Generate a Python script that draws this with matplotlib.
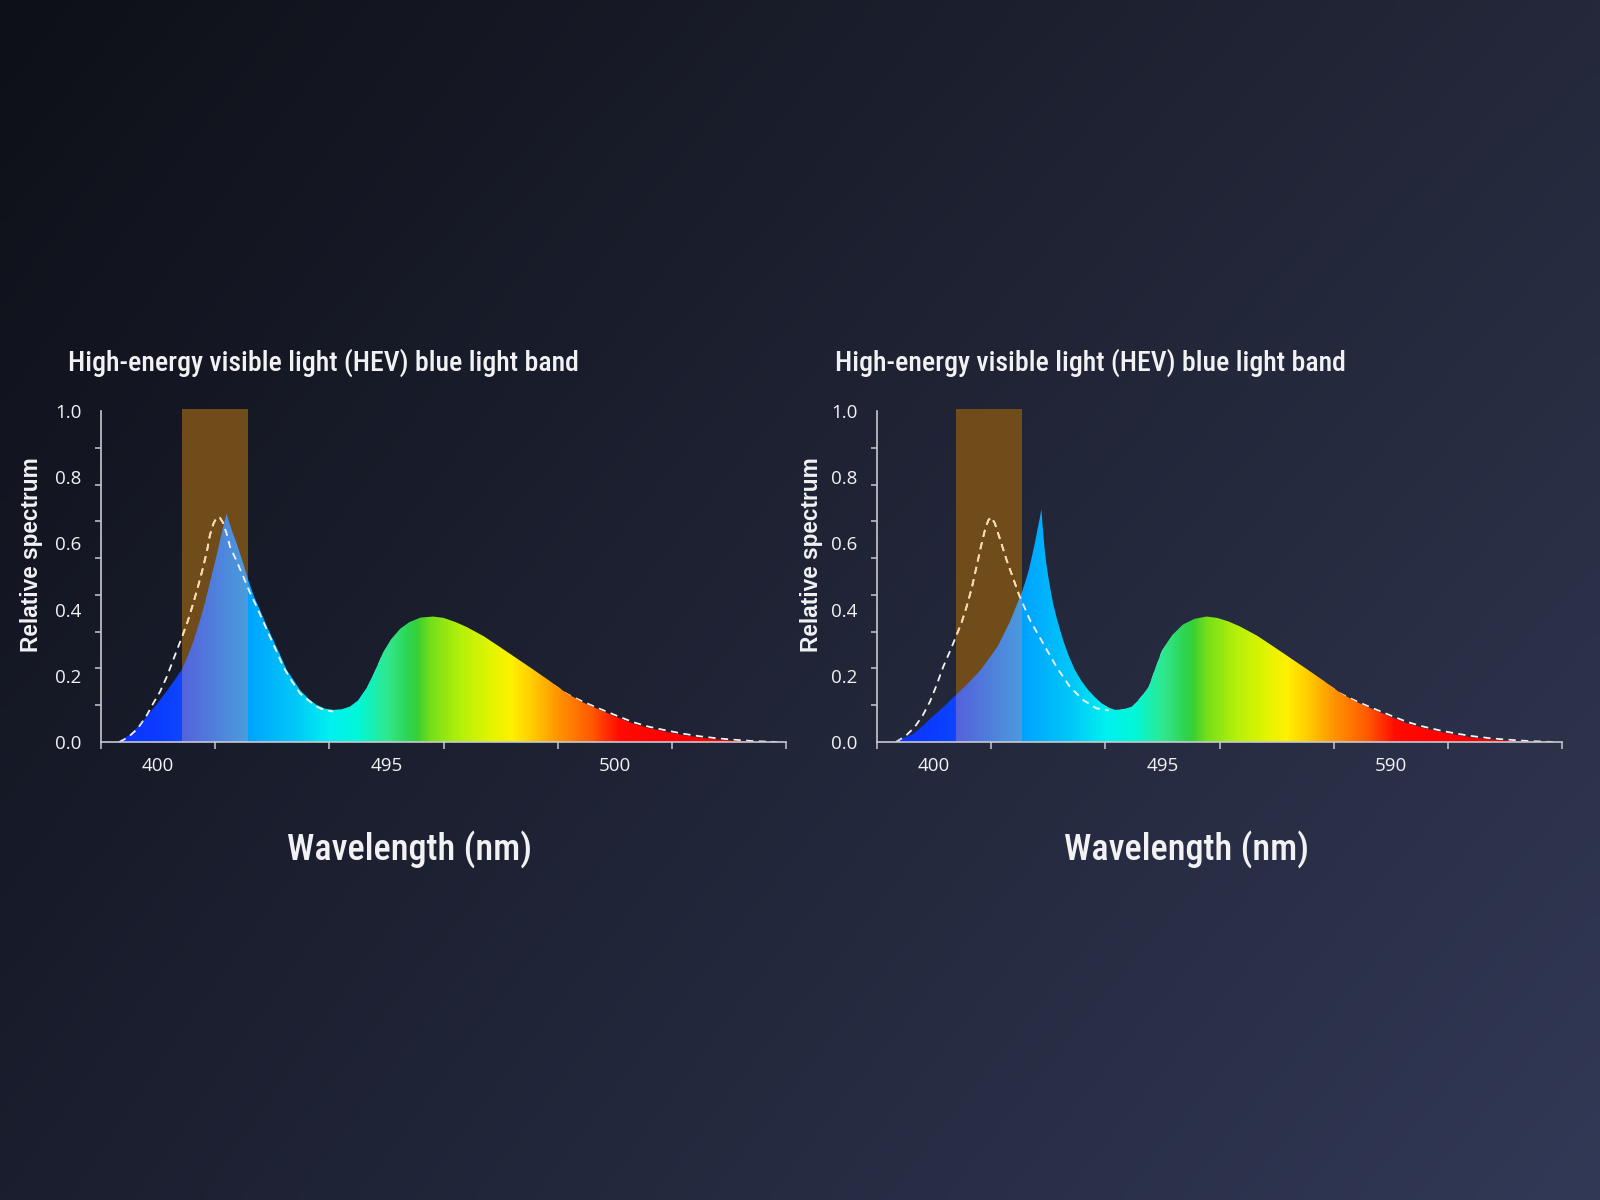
import numpy as np
import matplotlib.pyplot as plt
from matplotlib.colors import LinearSegmentedColormap
from matplotlib.patches import Rectangle

#> Values; x in tick units (0..6), y relative spectrum
left_x = [0.14, 0.20, 0.26, 0.32, 0.38, 0.43, 0.49, 0.55, 0.62, 0.707, 0.76, 0.81, 0.86, 0.91,
          0.96, 1.01, 1.04, 1.07, 1.09, 1.10, 1.115, 1.14, 1.188, 1.24, 1.29, 1.34, 1.392, 1.45, 1.509,
          1.57, 1.626, 1.69, 1.743, 1.82, 1.889, 1.96, 2.034, 2.11, 2.18, 2.25, 2.33, 2.40, 2.47, 2.54,
          2.62, 2.70, 2.80, 2.91, 3.00, 3.10, 3.20, 3.35, 3.49, 3.64, 3.79, 3.94, 4.08, 4.22, 4.37,
          4.52, 4.66, 4.80, 4.95, 5.10, 5.25, 5.40, 5.54, 5.80]
left_y = [0.0, 0.01, 0.025, 0.045, 0.068, 0.09, 0.115, 0.142, 0.175, 0.218, 0.26, 0.305, 0.36, 0.42,
          0.49, 0.56, 0.605, 0.65, 0.676, 0.69, 0.672, 0.645, 0.60, 0.545, 0.489, 0.44, 0.399, 0.352, 0.308,
          0.262, 0.218, 0.185, 0.157, 0.13, 0.112, 0.101, 0.097, 0.099, 0.107, 0.125, 0.165, 0.215, 0.27, 0.31,
          0.342, 0.362, 0.376, 0.379, 0.375, 0.363, 0.348, 0.32, 0.288, 0.253, 0.218, 0.182, 0.147, 0.12, 0.097,
          0.075, 0.056, 0.042, 0.031, 0.021, 0.013, 0.008, 0.004, 0.0]

left_ref_x = [0.16, 0.24, 0.32, 0.40, 0.458, 0.517, 0.58, 0.64, 0.707, 0.76, 0.808, 0.85, 0.896, 0.93,
              0.954, 0.985, 1.013, 1.04, 1.065, 1.10, 1.13, 1.19, 1.246, 1.30, 1.363, 1.42, 1.48, 1.54,
              1.597, 1.67, 1.743, 1.82, 1.889, 1.96, 2.034, 2.11, 2.18, 2.25, 2.33, 2.40, 2.47, 2.54,
              2.62, 2.70, 2.80, 2.91, 3.00, 3.20, 3.49, 3.79, 4.08, 4.22, 4.37, 4.52, 4.66, 4.80, 4.95,
              5.10, 5.25, 5.40, 5.54, 5.70, 5.92]
left_ref_y = [0.0, 0.015, 0.04, 0.08, 0.117, 0.152, 0.20, 0.255, 0.315, 0.365, 0.419, 0.47, 0.53, 0.58,
              0.625, 0.66, 0.678, 0.678, 0.665, 0.63, 0.59, 0.545, 0.5, 0.455, 0.409, 0.365, 0.318, 0.272,
              0.227, 0.185, 0.147, 0.125, 0.107, 0.096, 0.092, 0.094, 0.1, 0.118, 0.157, 0.207, 0.262, 0.302,
              0.334, 0.354, 0.368, 0.371, 0.367, 0.34, 0.28, 0.212, 0.145, 0.122, 0.1, 0.079, 0.06, 0.046, 0.035,
              0.025, 0.017, 0.011, 0.007, 0.003, 0.0]

right_x = [0.145, 0.22, 0.32, 0.40, 0.468, 0.58, 0.691, 0.80, 0.909, 1.056, 1.16, 1.266, 1.30, 1.33,
           1.36, 1.385, 1.41, 1.425, 1.44, 1.445, 1.45, 1.46, 1.47, 1.483, 1.50, 1.52, 1.542, 1.57, 1.60,
           1.63, 1.68, 1.733, 1.79, 1.85, 1.91, 1.968, 2.03, 2.085, 2.16, 2.233, 2.30, 2.38, 2.44,
           2.498, 2.586, 2.68, 2.78, 2.885, 2.98, 3.08, 3.18, 3.33, 3.47, 3.62, 3.77, 3.92, 4.06, 4.20,
           4.35, 4.50, 4.64, 4.78, 4.93, 5.08, 5.23, 5.38, 5.52, 5.78]
right_y = [0.0, 0.01, 0.025, 0.048, 0.071, 0.105, 0.142, 0.178, 0.218, 0.288, 0.36, 0.449, 0.485, 0.52,
           0.565, 0.605, 0.65, 0.675, 0.703, 0.68, 0.655, 0.615, 0.578, 0.54, 0.5, 0.46, 0.419, 0.38, 0.343,
           0.308, 0.26, 0.218, 0.185, 0.157, 0.135, 0.117, 0.104, 0.097, 0.099, 0.107, 0.13, 0.167, 0.225,
           0.278, 0.323, 0.355, 0.372, 0.379, 0.375, 0.364, 0.349, 0.321, 0.289, 0.254, 0.219, 0.183, 0.148,
           0.121, 0.098, 0.076, 0.057, 0.043, 0.031, 0.021, 0.013, 0.008, 0.004, 0.0]

right_ref_x = [0.165, 0.25, 0.33, 0.40, 0.464, 0.52, 0.58, 0.64, 0.691, 0.74, 0.785, 0.83, 0.872, 0.91,
               0.945, 0.975, 1.0, 1.032, 1.08, 1.135, 1.19, 1.245, 1.339, 1.455, 1.572, 1.689, 1.805, 1.92,
               2.085, 2.233, 2.38, 2.498, 2.586, 2.68, 2.78, 2.885, 2.98, 3.18, 3.47, 3.77, 4.06, 4.20,
               4.35, 4.50, 4.64, 4.78, 4.93, 5.08, 5.23, 5.38, 5.52, 5.70, 5.92]
right_ref_y = [0.0, 0.018, 0.045, 0.08, 0.122, 0.17, 0.227, 0.275, 0.318, 0.36, 0.409, 0.465, 0.53, 0.59,
               0.64, 0.67, 0.679, 0.661, 0.61, 0.55, 0.497, 0.444, 0.369, 0.298, 0.227, 0.167, 0.127, 0.102,
               0.092, 0.1, 0.159, 0.27, 0.315, 0.347, 0.364, 0.371, 0.367, 0.341, 0.281, 0.213, 0.146, 0.123,
               0.101, 0.08, 0.061, 0.047, 0.035, 0.025, 0.017, 0.011, 0.007, 0.003, 0.0]

left_band = (0.707, 1.29)
right_band = (0.69, 1.27)
left_xlabels = ['400', '495', '500']
right_xlabels = ['400', '495', '590']
ytick_vals = [0.0, 0.2, 0.4, 0.6, 0.8, 1.0]
title = 'High-energy visible light (HEV) blue light band'
ylab = 'Relative spectrum'
xlab = 'Wavelength (nm)'

#> Colours along the x axis of the spectrum fill
spec_pos = [0.0, 0.5, 0.7, 1.3, 1.7, 2.0, 2.25, 2.5, 2.72, 2.78, 2.9, 3.15, 3.4, 3.6, 3.8, 4.0, 4.3, 4.55, 5.0, 6.0]
spec_col = ['#1030ff', '#0a3cff', '#0f46ff', '#00a5ff', '#00c8f8', '#00f0f0', '#00f8d8', '#30e890',
            '#2ed24a', '#40d030', '#78e018', '#b4f00a', '#e0f500', '#fff000', '#ffc800', '#ff9600',
            '#ff5a00', '#ff0a00', '#ff0000', '#e80000']
spec_cmap = LinearSegmentedColormap.from_list('spec', [(p / 6, c) for p, c in zip(spec_pos, spec_col)])

axis_col = '#c8c8d0'
text_col = '#f2f2f5'
narrow = ['Roboto Condensed', 'Liberation Sans', 'DejaVu Sans']
plt.rcParams['font.family'] = ['Open Sans', 'DejaVu Sans']

fig = plt.figure(figsize=(16, 12), dpi=100)

#> background gradient
bg = fig.add_axes([0, 0, 1, 1], zorder=-10)
u = np.linspace(0, 1, 160)[None, :, None]
v = np.linspace(0, 1, 120)[:, None, None]
tl, tr, bl, br = [np.array(c) / 255 for c in ((14, 16, 24), (36, 40, 58), (26, 30, 46), (50, 57, 86))]
img = tl * (1 - u) * (1 - v) + tr * u * (1 - v) + bl * (1 - u) * v + br * u * v
bg.imshow(img, aspect='auto', extent=[0, 1, 0, 1], interpolation='bilinear')
bg.axis('off')


def panel(ax_left, sx, sy, rx, ry, band, xlabels):
    ax = fig.add_axes([ax_left / 1600, 458 / 1200, 685 / 1600, 331 / 1200])
    ax.patch.set_visible(False)

    # band behind the spectrum
    rect = Rectangle((band[0], 0), band[1] - band[0], 1.005, facecolor='#704c1a',
                     edgecolor='none', zorder=1, clip_on=False)
    ax.add_patch(rect)

    # spectrum with colour gradient
    poly = ax.fill_between(sx, sy, 0, facecolor='none', edgecolor='none')
    path = poly.get_paths()[0]
    im = ax.imshow(np.linspace(0, 1, 800)[None, :], cmap=spec_cmap, extent=[0, 6, 0, 1],
                   aspect='auto', interpolation='bilinear', zorder=2)
    im.set_clip_path(path, transform=ax.transData)

    over = Rectangle((band[0], 0), band[1] - band[0], 1, facecolor=(203 / 255, 150 / 255, 160 / 255),
                     alpha=0.37, edgecolor='none', zorder=2.5)
    ax.add_patch(over)
    over.set_clip_path(path, transform=ax.transData)

    # reference curve (dashed): below the fill, plus the part inside the blue peak on top
    dash = dict(lw=1.3, ls=(0, (4, 3)))
    ax.plot(rx, ry, color='#f4f4f4', zorder=1.5, **dash)
    l2, = ax.plot(rx, ry, color='#ffd9a8', zorder=1.6, **dash)
    l2.set_clip_path(rect)
    k = sum(1 for x in sx if x <= 2.04)
    head = ax.fill_between(sx[:k], sy[:k], 0, facecolor='none', edgecolor='none')
    l3, = ax.plot(rx, ry, color='#f4f4f4', zorder=3, **dash)
    l3.set_clip_path(head.get_paths()[0], transform=ax.transData)

    ax.set_xlim(0, 6)
    ax.set_ylim(0, 1)
    for s in ('top', 'right'):
        ax.spines[s].set_visible(False)
    for s in ('left', 'bottom'):
        ax.spines[s].set_color(axis_col)
        ax.spines[s].set_linewidth(1.2)
        ax.spines[s].set_zorder(4)

    ax.set_xticks(range(7))
    ax.set_xticklabels([])
    ax.set_xticks([0.5, 2.5, 4.5], minor=True)
    ax.set_xticklabels(xlabels, minor=True)
    ax.tick_params(axis='x', which='major', length=5, width=1.1, color=axis_col)
    ax.tick_params(axis='x', which='minor', length=0, pad=11, labelsize=13.5, labelcolor=text_col)

    ax.set_yticks(ytick_vals)
    ax.set_yticklabels(['%.1f' % t for t in ytick_vals])
    ax.tick_params(axis='y', which='major', length=0, pad=14, labelsize=13.5, labelcolor=text_col)
    ax.set_yticks(np.linspace(0, 1, 10), minor=True)
    ax.tick_params(axis='y', which='minor', length=4.5, width=1.1, color=axis_col)
    return ax


panel(101, left_x, left_y, left_ref_x, left_ref_y, left_band, left_xlabels)
panel(877, right_x, right_y, right_ref_x, right_ref_y, right_band, right_xlabels)

renderer = fig.canvas.get_renderer()


def fit_width(t, target):
    w = t.get_window_extent(renderer).width
    t.set_fontsize(t.get_fontsize() * target / w)


for tx, yx, xx in ((68, 32, 410), (835, 812, 1186)):
    t1 = fig.text(tx / 1600, 1 - 371 / 1200, title, family=narrow, weight='medium', fontsize=20,
                  color=text_col, ha='left', va='baseline')
    fit_width(t1, 510)
    fig.text(yx / 1600, 1 - 555 / 1200, ylab, family=['Liberation Sans', 'DejaVu Sans'],
             weight='bold', fontsize=16.3, color=text_col, rotation=90, ha='center', va='center')
    t3 = fig.text(xx / 1600, 1 - 849 / 1200, xlab, family=narrow, weight='medium', fontsize=28,
                  color=text_col, ha='center', va='center')
    fit_width(t3, 245)

fig.savefig('out.png', dpi=100)
